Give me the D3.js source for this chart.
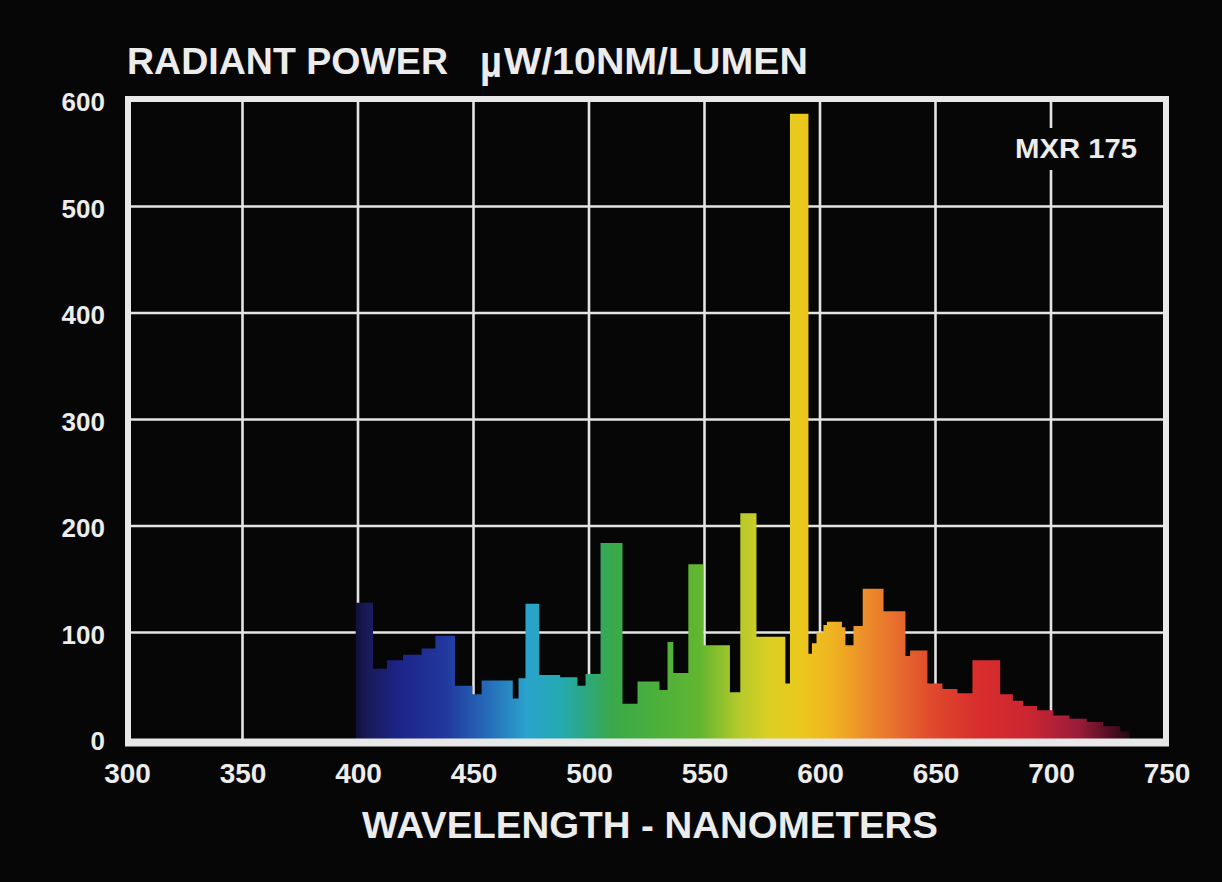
<!DOCTYPE html>
<html>
<head>
<meta charset="utf-8">
<script src="https://cdn.jsdelivr.net/npm/d3@7"></script>
<style>
  html, body { margin: 0; padding: 0; background: #060606; }
  svg { display: block; }
</style>
</head>
<body>
<svg id="chart" width="1222" height="882"></svg>
<script>
// Spectral power distribution of an MXR 175 lamp (µW / 10 nm / lumen)
// Each band starts at bandStart[i] (nm) and holds bandPower[i] until the next band.
const bandStart = [399, 406.5, 412.5, 419.5, 427.5, 433.5, 442, 449.5, 453.5, 467, 469.5, 472.5,
  478.5, 487.5, 495, 498.5, 505, 514.5, 521, 530.5, 534, 536.5, 543, 549.5, 561, 565.5, 572.5,
  585, 587, 595, 596.5, 598.5, 601.5, 603, 609.5, 611, 614.5, 618.5, 627.5, 637, 639, 646.5,
  653, 659.5, 666, 678, 683.5, 688, 694, 701, 708, 715.5, 722.5, 730, 734];
const bandPower = [128, 66, 74, 79, 85, 97, 50, 42, 55, 38, 57, 127,
  60, 58, 50, 61, 184, 33, 54, 46, 91, 62, 164, 88, 44, 212, 96,
  52, 587, 80, 90, 100, 107, 110, 105, 88, 106, 141, 120, 78, 83, 52,
  47, 43, 74, 42, 36, 31, 27, 22, 19, 16, 12, 7, 0];

const xTicks = [300, 350, 400, 450, 500, 550, 600, 650, 700, 750];
const yTicks = [0, 100, 200, 300, 400, 500, 600];

// Colour of the spectrum at each wavelength
const spectrumNm = [394, 404, 418, 438, 455, 473, 488, 500, 510, 530, 548, 565, 578, 592, 606, 620, 632, 648, 668, 690, 712, 736];
const spectrumColor = ["#07071c", "#191a58", "#1d2488", "#22389e", "#2668b6", "#2aa2cc", "#24aab0", "#2ea878",
  "#3aa84a", "#4cb03c", "#62b630", "#b4ca2a", "#dccf24", "#ecc81c", "#f0b222", "#ec8c2a", "#e8702e",
  "#e04a2c", "#d82e2c", "#cc2632", "#9a1c3a", "#1a0610"];

const svg = d3.select("#chart");
const font = "'Liberation Sans', Arial, Helvetica, sans-serif";
const ink = "#ececec";

svg.append("rect").attr("width", 1222).attr("height", 882).attr("fill", "#060606");

const x = d3.scaleLinear().domain([300, 750]).range([127, 1166.5]);
const y = d3.scaleLinear().domain([0, 600]).range([739, 100]);

const frame = { left: 128, right: 1166, top: 99, bottom: 742 };

// Spectrum gradient
const defs = svg.append("defs");
const grad = defs.append("linearGradient")
  .attr("id", "spectrum")
  .attr("gradientUnits", "userSpaceOnUse")
  .attr("x1", x(spectrumNm[0])).attr("x2", x(spectrumNm[spectrumNm.length - 1]))
  .attr("y1", 0).attr("y2", 0);
const span = spectrumNm[spectrumNm.length - 1] - spectrumNm[0];
spectrumNm.forEach((nm, i) => {
  grad.append("stop")
    .attr("offset", (nm - spectrumNm[0]) / span)
    .attr("stop-color", spectrumColor[i]);
});

// Grid
const gridColor = "#e4e4e4";
svg.append("g").selectAll("line")
  .data(xTicks.filter(t => t > 300 && t < 750))
  .join("line")
  .attr("x1", d => x(d)).attr("x2", d => x(d))
  .attr("y1", frame.top).attr("y2", frame.bottom)
  .attr("stroke", gridColor).attr("stroke-width", 2.6);
svg.append("g").selectAll("line")
  .data(yTicks.filter(t => t > 0 && t < 600))
  .join("line")
  .attr("x1", frame.left).attr("x2", frame.right)
  .attr("y1", d => y(d)).attr("y2", d => y(d))
  .attr("stroke", gridColor).attr("stroke-width", 2.6);

// Spectrum fill
const bands = bandStart.map((s, i) => [s, bandPower[i]]);
const area = d3.area()
  .x(d => x(d[0]))
  .y0(y(0))
  .y1(d => y(d[1]))
  .curve(d3.curveStepAfter);
svg.append("path")
  .datum(bands)
  .attr("d", area)
  .attr("fill", "url(#spectrum)");

// Lamp label with a cut-out in the grid
svg.append("rect")
  .attr("x", 1006).attr("y", 128).attr("width", 140).attr("height", 42)
  .attr("fill", "#060606");
svg.append("text")
  .attr("x", 1015).attr("y", 158)
  .attr("font-family", font).attr("font-weight", "bold").attr("font-size", 27)
  .attr("fill", ink)
  .attr("textLength", 122).attr("lengthAdjust", "spacingAndGlyphs")
  .text("MXR 175");

// Frame (base line drawn a little heavier)
svg.append("rect")
  .attr("x", frame.left).attr("y", frame.top)
  .attr("width", frame.right - frame.left).attr("height", frame.bottom - frame.top)
  .attr("fill", "none").attr("stroke", "#e8e8e8").attr("stroke-width", 6);
svg.append("line")
  .attr("x1", frame.left - 3).attr("x2", frame.right + 3)
  .attr("y1", frame.bottom + 0.5).attr("y2", frame.bottom + 0.5)
  .attr("stroke", "#e8e8e8").attr("stroke-width", 8);

// Axes
const yAxis = svg.append("g")
  .attr("transform", `translate(${frame.left},0)`)
  .call(d3.axisLeft(y).tickValues(yTicks).tickSize(0).tickPadding(23).tickFormat(d3.format("d")));
yAxis.select(".domain").remove();
yAxis.selectAll("text")
  .attr("font-family", font).attr("font-weight", "bold").attr("font-size", 26)
  .attr("fill", ink).attr("dy", "0.42em");

const xAxis = svg.append("g")
  .attr("transform", `translate(0,${frame.bottom})`)
  .call(d3.axisBottom(x).tickValues(xTicks).tickSize(0).tickPadding(21).tickFormat(d3.format("d")));
xAxis.select(".domain").remove();
xAxis.selectAll("text")
  .attr("font-family", font).attr("font-weight", "bold").attr("font-size", 28)
  .attr("fill", ink);

// Titles
svg.append("text")
  .attr("x", 127).attr("y", 74)
  .attr("font-family", font).attr("font-weight", "bold").attr("font-size", 36)
  .attr("fill", ink)
  .attr("textLength", 321).attr("lengthAdjust", "spacingAndGlyphs")
  .text("RADIANT POWER");
svg.append("text")
  .attr("x", 480).attr("y", 77)
  .attr("font-family", font).attr("font-weight", "bold").attr("font-size", 44)
  .attr("fill", ink)
  .attr("textLength", 22).attr("lengthAdjust", "spacingAndGlyphs")
  .text("µ");
svg.append("text")
  .attr("x", 504).attr("y", 74)
  .attr("font-family", font).attr("font-weight", "bold").attr("font-size", 36)
  .attr("fill", ink)
  .attr("textLength", 304).attr("lengthAdjust", "spacingAndGlyphs")
  .text("W/10NM/LUMEN");

svg.append("text")
  .attr("x", 362).attr("y", 838)
  .attr("font-family", font).attr("font-weight", "bold").attr("font-size", 37)
  .attr("fill", ink)
  .attr("textLength", 576).attr("lengthAdjust", "spacingAndGlyphs")
  .text("WAVELENGTH - NANOMETERS");
</script>
</body>
</html>
